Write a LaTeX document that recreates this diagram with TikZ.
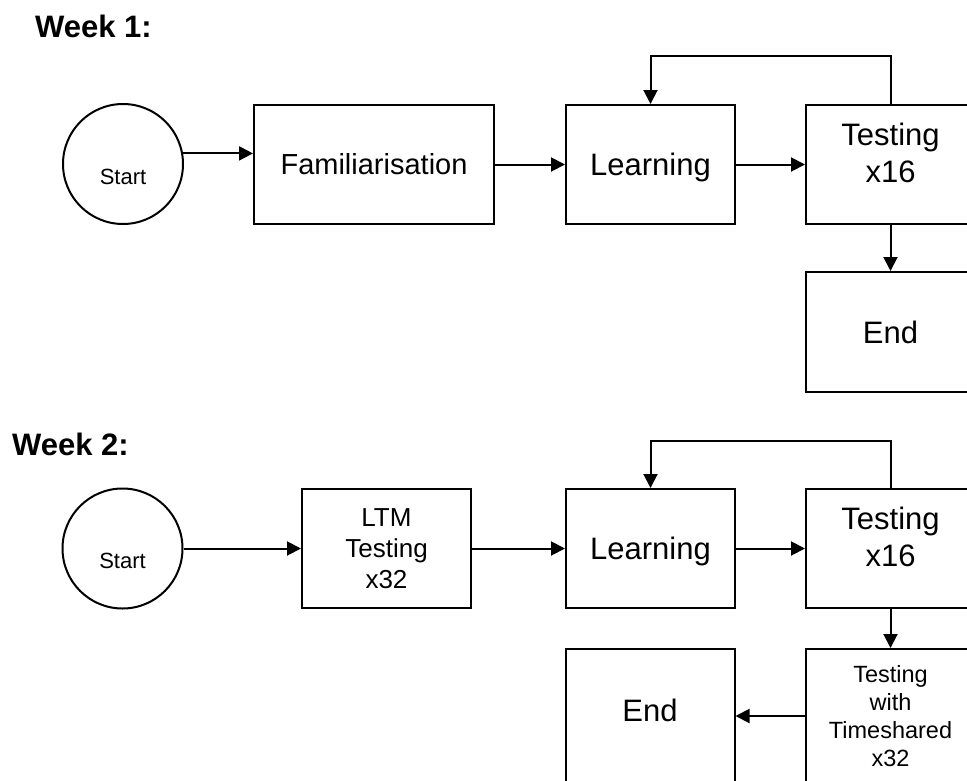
\documentclass[tikz,border=0pt]{standalone}
\usepackage{fontspec}
\setmainfont{Liberation Sans}
\usetikzlibrary{arrows.meta}
\newcommand{\dn}{\rule[-24pt]{0pt}{24pt}}
\newcommand{\up}{\rule{0pt}{29pt}}
\begin{document}
\begin{tikzpicture}[x=1pt,y=-1pt,
  box/.style={draw,line width=2pt,minimum width=169pt,minimum height=119pt,inner sep=0pt,align=center},
  bigtxt/.style={font=\fontsize{31}{37}\selectfont},
  startc/.style={draw,circle,line width=2pt,minimum size=120pt,inner sep=0pt,font=\fontsize{22}{26}\selectfont,text height=40pt,text depth=0pt},
  conn/.style={line width=2pt,-{Triangle[length=14pt,width=14pt]}},
  title/.style={font=\fontsize{31}{36}\selectfont\bfseries,inner sep=0pt,anchor=base west}]
\useasboundingbox (0,0) rectangle (967,780);
\clip (0,0) rectangle (967,780);
% Week 1
\node[title] (w1) at (35,37) {Week 1:};
\node[startc] (s1) at (123,164) {Start};
\node[box,font=\fontsize{29}{34}\selectfont,minimum width=240pt] (f1) at (374,164.5) {Familiarisation};
\node[box,bigtxt] (l1) at (650.5,164.5) {\up Learning};
\node[box,bigtxt] (t1) at (890.5,164.5) {Testing\\x16\dn};
\node[box,bigtxt,minimum height=120pt] (e1) at (890.5,332) {End};
\coordinate (k1) at (770,56);
\draw[conn] (s1.10.6) -- (s1.10.6 -| f1.west);
\draw[conn] (f1) -- (l1);
\draw[conn] (l1) -- (t1);
\draw[conn] (t1) -- (e1);
\draw[conn] (t1.north) |- (k1) -| (l1.north);
% Week 2
\node[title] (w2) at (12,455) {Week 2:};
\node[startc] (s2) at (122.5,548.5) {Start};
\node[box,font=\fontsize{26}{31}\selectfont] (m2) at (386.5,548.5) {LTM\\Testing\\x32};
\node[box,bigtxt] (l2) at (650.5,548.5) {\up Learning};
\node[box,bigtxt] (t2) at (890.5,548.5) {Testing\\x16\dn};
\node[box,font=\fontsize{23.5}{28}\selectfont,minimum height=134pt,anchor=north] (tw) at (890.5,648) {Testing\\with\\Timeshared\\x32};
\node[box,bigtxt,anchor=north,minimum height=0pt,text height=72pt,text depth=80pt] (e2) at (650,648) {End};
\coordinate (k2) at (770,441);
\draw[conn] (s2) -- (m2);
\draw[conn] (m2) -- (l2);
\draw[conn] (l2) -- (t2);
\draw[conn] (t2) -- (tw);
\draw[conn] (tw.west) -- (tw.west -| e2.east);
\draw[conn] (t2.north) |- (k2) -| (l2.north);
\end{tikzpicture}
\end{document}
